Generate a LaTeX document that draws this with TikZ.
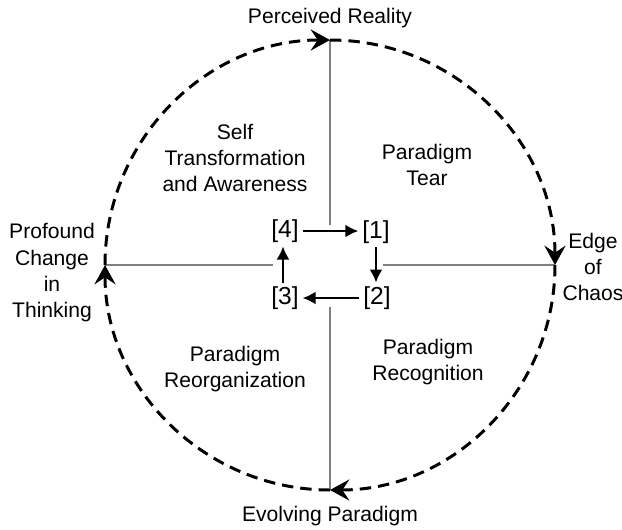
\documentclass[tikz,border=0pt]{standalone}
\usepackage{fontspec}
\setmainfont{Liberation Sans}
\usepackage{tikz}
\usetikzlibrary{arrows.meta}

\begin{document}
\begin{tikzpicture}[x=0.02cm, y=0.02cm,
  every node/.style={font=\fontsize{12}{15}\selectfont, align=center},
  ring/.style={line width=1.7pt, dash pattern=on 6.5pt off 4pt, -{Stealth[length=11pt, width=12pt, inset=4pt]}},
  axis/.style={gray, line width=0.8pt},
  stage/.style={inner sep=1pt, font=\fontsize{14}{16}\selectfont},
  cyc/.style={line width=1.6pt, -{Latex[length=7.5pt, width=7.5pt]}, shorten <=1pt, shorten >=1pt}]
  \useasboundingbox (-330,-264) rectangle (292,265);

  % Points on the circle
  \coordinate (top) at (90:225);
  \coordinate (right) at (0:225);
  \coordinate (bottom) at (270:225);
  \coordinate (left) at (180:225);

  % Axes
  \draw[axis] (top) -- (0,40);
  \draw[axis] (bottom) -- (0,-42);
  \draw[axis] (left) -- (-57,0);
  \draw[axis] (right) -- (53,0);

  % Dashed circle, clockwise
  \draw[ring] (left) arc[start angle=180, end angle=90, radius=225];
  \draw[ring] (top) arc[start angle=90, end angle=0, radius=225];
  \draw[ring] (right) arc[start angle=0, end angle=-90, radius=225];
  \draw[ring] (bottom) arc[start angle=-90, end angle=-180, radius=225];

  % Labels on the circle
  \node (reality) at (0,247) {Perceived Reality};
  \node (evolving) at (0,-251) {Evolving Paradigm};
  \node (chaos) at (263,-2) {Edge\\of\\Chaos};
  \node (profound) at (-278,-8) {Profound\\Change\\in\\Thinking};

  % Quadrants
  \node (self) at (-95,107) {Self\\Transformation\\and Awareness};
  \node (tear) at (97,100) {Paradigm\\Tear};
  \node (reorg) at (-95,-104) {Paradigm\\Reorganization};
  \node (recog) at (98,-97) {Paradigm\\Recognition};

  % Stages
  \node[stage] (s4) at (-45,34) {[4]};
  \node[stage] (s1) at (46,33) {[1]};
  \node[stage] (s2) at (47,-33) {[2]};
  \node[stage] (s3) at (-45,-33) {[3]};

  \draw[cyc] (s4) -- (s4 -| s1.west);
  \draw[cyc] (s1.south) -- (s1.south |- s2.north);
  \draw[cyc] (s2) -- (s2 -| s3.east);
  \draw[cyc] (s3.north -| -47,0) -- (-47,0 |- s4.south);

\end{tikzpicture}
\end{document}
